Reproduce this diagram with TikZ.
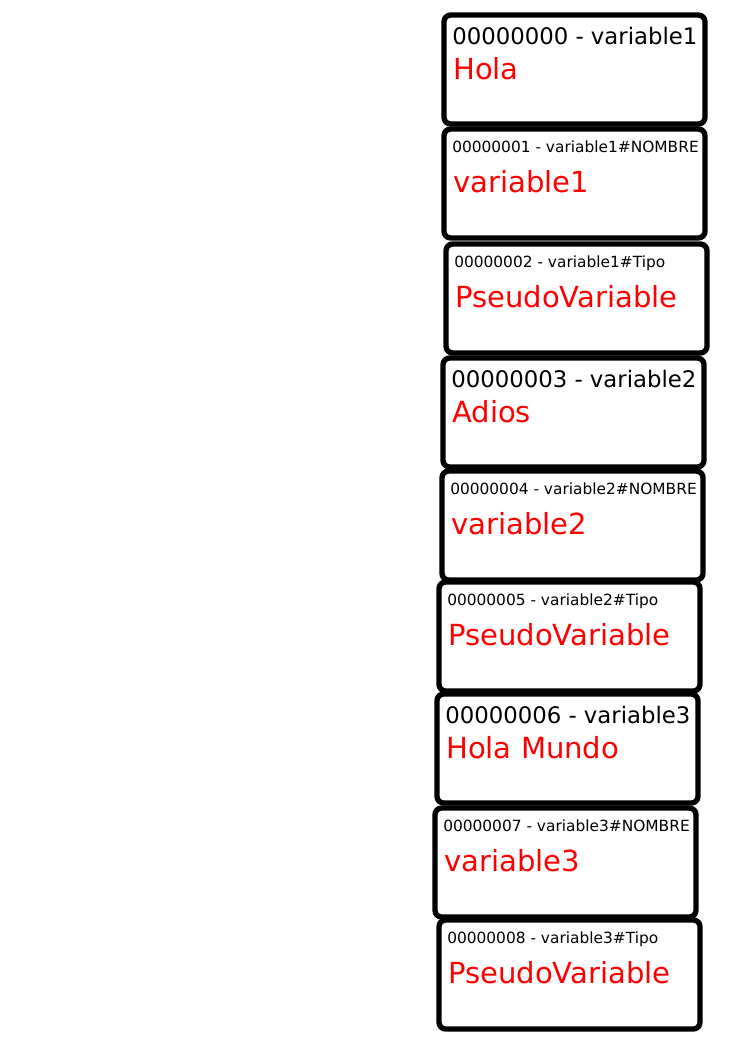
\documentclass[tikz,border=0pt]{standalone}
\usepackage{fontspec}
\setmainfont{DejaVu Sans}
\begin{document}
\begin{tikzpicture}[x=0.75pt, y=-0.75pt,
	cell/.style={rectangle, draw, fill=white, line width=4pt, rounded corners=5pt, inner sep=0pt, outer sep=0pt, anchor=north west, minimum width=195.75pt, minimum height=81.75pt},
	bighead/.style={anchor=base west, inner sep=0pt, font=\fontsize{17.1}{20}\selectfont},
	smallhead/.style={anchor=base west, inner sep=0pt, font=\fontsize{11.55}{14}\selectfont},
	value/.style={anchor=base west, inner sep=0pt, text=red, font=\fontsize{21.8}{26}\selectfont}]
	\useasboundingbox (0,0) rectangle (745,1053);
	% memory cells, top to bottom
	\node[cell](c0) at (444,15){};
	\node[cell](c1) at (444,129){};
	\node[cell](c2) at (446,244){};
	\node[cell](c3) at (443,358){};
	\node[cell](c4) at (442,471){};
	\node[cell](c5) at (439,582){};
	\node[cell](c6) at (437,694){};
	\node[cell](c7) at (435,808){};
	\node[cell](c8) at (439,920){};
	% addresses and contents
	\node[bighead](h0) at ([shift={(8,29)}]c0.north west){00000000 - variable1};
	\node[value](v0) at ([shift={(9,64)}]c0.north west){Hola};
	\node[smallhead](h1) at ([shift={(8,23)}]c1.north west){00000001 - variable1\#NOMBRE};
	\node[value](v1) at ([shift={(9,63)}]c1.north west){variable1};
	\node[smallhead](h2) at ([shift={(8,23)}]c2.north west){00000002 - variable1\#Tipo};
	\node[value](v2) at ([shift={(9,63)}]c2.north west){PseudoVariable};
	\node[bighead](h3) at ([shift={(8,29)}]c3.north west){00000003 - variable2};
	\node[value](v3) at ([shift={(9,64)}]c3.north west){Adios};
	\node[smallhead](h4) at ([shift={(8,23)}]c4.north west){00000004 - variable2\#NOMBRE};
	\node[value](v4) at ([shift={(9,63)}]c4.north west){variable2};
	\node[smallhead](h5) at ([shift={(8,23)}]c5.north west){00000005 - variable2\#Tipo};
	\node[value](v5) at ([shift={(9,63)}]c5.north west){PseudoVariable};
	\node[bighead](h6) at ([shift={(8,29)}]c6.north west){00000006 - variable3};
	\node[value](v6) at ([shift={(9,64)}]c6.north west){Hola Mundo};
	\node[smallhead](h7) at ([shift={(8,23)}]c7.north west){00000007 - variable3\#NOMBRE};
	\node[value](v7) at ([shift={(9,63)}]c7.north west){variable3};
	\node[smallhead](h8) at ([shift={(8,23)}]c8.north west){00000008 - variable3\#Tipo};
	\node[value](v8) at ([shift={(9,63)}]c8.north west){PseudoVariable};
\end{tikzpicture}
\end{document}
